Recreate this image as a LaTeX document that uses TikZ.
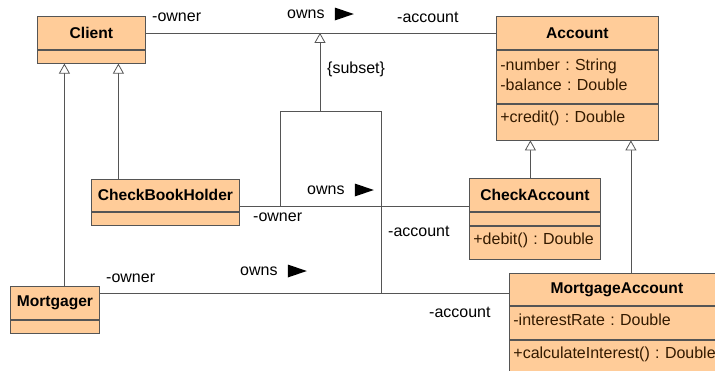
\documentclass[tikz,border=0pt]{standalone}
\usepackage{fontspec}
\setmainfont{Liberation Sans}
\usepackage{xcolor}
\usetikzlibrary{positioning,arrows.meta}

\definecolor{classfill}{HTML}{FFCC99}
\definecolor{boxline}{HTML}{555555}
\definecolor{linkgray}{HTML}{555555}
\definecolor{membertext}{HTML}{331A00}
\frenchspacing
\hyphenpenalty=10000

\begin{document}
\begin{tikzpicture}[
      x=1pt, y=-1pt,
      head/.style={draw=boxline, fill=classfill, line width=0.8pt, inner sep=0pt, font=\bfseries\fontsize{15.6}{18}\selectfont},
      part/.style={draw=boxline, fill=classfill, line width=0.8pt, inner xsep=4pt, inner ysep=0pt, align=left, text depth=7pt, text=membertext, font=\fontsize{16}{20}\selectfont},
      assoc/.style={draw=linkgray, line width=0.8pt},
      gen/.style={assoc, -{Triangle[open, width=11pt, length=10pt, fill=white]}},
      lbl/.style={inner sep=0pt, anchor=west, font=\fontsize{16}{20}\selectfont},
      ownsmark/.pic={\fill (0,-6.5) -- (0,6.5) -- (19,0) -- cycle;}
    ]
    \useasboundingbox (0,0) rectangle (715,370);

    % classes
    \node[head, anchor=north west, minimum width=108pt, minimum height=33pt] (client) at (37,16) {Client};
    \node[part, below=0pt of client, text width=100pt, minimum height=13pt] (clientA) {};

    \node[head, anchor=north west, minimum width=162pt, minimum height=33pt] (account) at (496,16) {Account};
    \node[part, below=0pt of account, text width=154pt, minimum height=53pt, text depth=24pt] (accountA) {-number : String\\-balance : Double};
    \node[part, below=0pt of accountA, text width=154pt, minimum height=36pt, text depth=11pt] (accountO) {+credit() : Double};

    \node[head, anchor=north west, minimum width=148pt, minimum height=32pt] (cbh) at (91,179) {CheckBookHolder};
    \node[part, below=0pt of cbh, text width=140pt, minimum height=13pt] (cbhA) {};

    \node[head, anchor=north west, minimum width=131pt, minimum height=33pt] (checkacc) at (469,178) {CheckAccount};
    \node[part, below=0pt of checkacc, text width=123pt, minimum height=13pt] (checkaccA) {};
    \node[part, below=0pt of checkaccA, text width=123pt, minimum height=33pt] (checkaccO) {+debit() : Double};

    \node[head, anchor=north west, minimum width=89pt, minimum height=33pt] (mortgager) at (10,286) {Mortgager};
    \node[part, below=0pt of mortgager, text width=81pt, minimum height=13pt] (mortgagerA) {};

    \node[head, anchor=north west, minimum width=215pt, minimum height=32pt] (mortacc) at (509,273) {MortgageAccount};
    \node[part, below=0pt of mortacc, text width=207pt, minimum height=33pt] (mortaccA) {-interestRate : Double};
    \node[part, below=0pt of mortaccA, text width=207pt, minimum height=32pt] (mortaccO) {+calculateInterest() : Double};

    % associations
    \coordinate (cbhLink) at ([yshift=-11pt]cbh.east);
    \coordinate (mortLink) at ([yshift=-4pt]mortacc.west);
    \coordinate (subsetMid) at (320,111);
    \coordinate (subsetL) at (280,111);
    \coordinate (subsetR) at (381,111);

    \draw[assoc] (client) -- (account);
    \draw[assoc] (cbhLink) -- (cbhLink -| checkacc.west);
    \draw[assoc] (mortgager.east |- mortLink) -- (mortLink);
    \draw[assoc] (subsetL |- cbhLink) -- (subsetL) -- (subsetR) -- (subsetR |- mortLink);
    \draw[gen] (subsetMid) -- (subsetMid |- client.east);

    % generalizations
    \draw[gen] ([xshift=9.5pt]mortgager.north) -- ([xshift=9.5pt]mortgager.north |- clientA.south);
    \draw[gen] ([xshift=-47pt]cbh.north) -- ([xshift=-47pt]cbh.north |- clientA.south);
    \draw[gen] ([xshift=-4.5pt]checkacc.north) -- ([xshift=-4.5pt]checkacc.north |- accountO.south);
    \draw[gen] ([xshift=14pt]mortacc.north) -- ([xshift=14pt]mortacc.north |- accountO.south);

    % labels
    \node[lbl] (ownerTop) at (152,17) {-owner};
    \node[lbl] (ownsTop) at (287,14) {owns};
    \pic at ([xshift=10pt]ownsTop.east) {ownsmark};
    \node[lbl] (accountTop) at (397,17) {-account};
    \node[lbl] (subset) at (327,69) {\{subset\}};

    \node[lbl] (ownsMid) at (307,190) {owns};
    \pic at ([xshift=10pt]ownsMid.east) {ownsmark};
    \node[lbl] (ownerMid) at (253,217) {-owner};
    \node[lbl] (accountMid) at (388,231) {-account};

    \node[lbl] (ownerLow) at (106,278) {-owner};
    \node[lbl] (ownsLow) at (240,271) {owns};
    \pic at ([xshift=10pt]ownsLow.east) {ownsmark};
    \node[lbl] (accountLow) at (429,312) {-account};
  \end{tikzpicture}
\end{document}
